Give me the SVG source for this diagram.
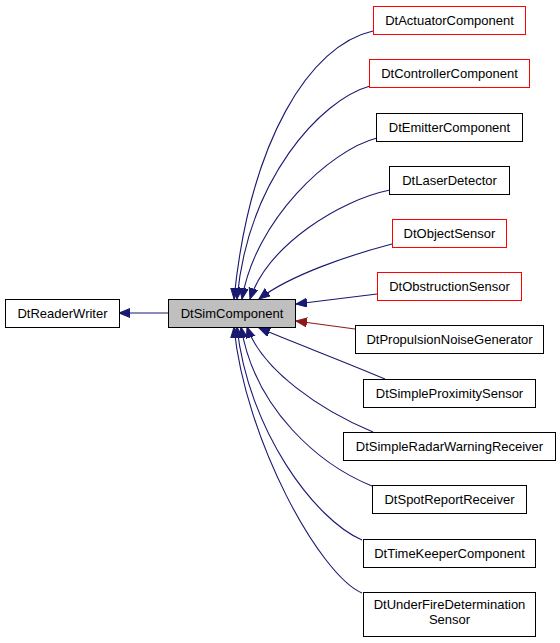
<svg xmlns="http://www.w3.org/2000/svg" width="560" height="643" viewBox="0 0 560 643">
<style>
.n rect{fill:#fff;stroke:#000;stroke-width:1}
.n.r rect{stroke:#ff0000}
.n.g rect{fill:#bfbfbf}
.n text{font-family:"Liberation Sans",Arial,sans-serif;font-size:13px;text-anchor:middle;fill:#000}
.e path{fill:none;stroke:#191970;stroke-width:1.1;marker-end:url(#ab)}
.e path.p{stroke:#8b1a1a;marker-end:url(#ar)}
</style>
<defs>
<marker id="ab" markerUnits="userSpaceOnUse" markerWidth="12" markerHeight="10" refX="11" refY="4.5" orient="auto" viewBox="0 0 12 10"><path d="M0,0 L11,4.5 L0,9 z" fill="#191970" stroke="#191970"/></marker>
<marker id="ar" markerUnits="userSpaceOnUse" markerWidth="12" markerHeight="10" refX="11" refY="4.5" orient="auto" viewBox="0 0 12 10"><path d="M0,0 L11,4.5 L0,9 z" fill="#8b1a1a" stroke="#8b1a1a"/></marker>
</defs>
<rect width="560" height="643" fill="#fff"/>
<g id="edges" class="e">
<path d="M168,313 L119,313"/>
<path d="M373,31 C310,45 250,140 234,299"/>
<path d="M370,86 C320,100 248,180 237,299"/>
<path d="M377,138 C330,150 255,220 242,299"/>
<path d="M390,190 C340,200 268,245 250,299"/>
<path d="M392,244 C350,255 290,275 259,299"/>
<path d="M377,294 L296,304"/>
<path class="p" d="M355,329 L296,321"/>
<path d="M385,379 C345,362 300,345 259,328"/>
<path d="M373,432 C320,410 262,370 247,327"/>
<path d="M372,486 C320,465 255,410 241,327"/>
<path d="M362,540 C315,520 248,430 237,327"/>
<path d="M362,593 C320,575 245,440 234,327"/>
</g>
<g id="DtReaderWriter" class="n"><rect x="5.5" y="299.5" width="114" height="28"/><text x="62.5" y="318">DtReaderWriter</text></g>
<g id="DtSimComponent" class="n g"><rect x="168.5" y="299.5" width="127" height="28"/><text x="232" y="318">DtSimComponent</text></g>
<g id="DtActuatorComponent" class="n r"><rect x="373.5" y="6.5" width="152" height="28"/><text x="449.5" y="25">DtActuatorComponent</text></g>
<g id="DtControllerComponent" class="n r"><rect x="369.5" y="59.5" width="160" height="28"/><text x="449.5" y="78">DtControllerComponent</text></g>
<g id="DtEmitterComponent" class="n"><rect x="376.5" y="113.5" width="146" height="28"/><text x="449.5" y="132">DtEmitterComponent</text></g>
<g id="DtLaserDetector" class="n"><rect x="389.5" y="166.5" width="120" height="28"/><text x="449.5" y="185">DtLaserDetector</text></g>
<g id="DtObjectSensor" class="n r"><rect x="392.5" y="219.5" width="114" height="28"/><text x="449.5" y="238">DtObjectSensor</text></g>
<g id="DtObstructionSensor" class="n r"><rect x="377.5" y="272.5" width="144" height="28"/><text x="449.5" y="291">DtObstructionSensor</text></g>
<g id="DtPropulsionNoiseGenerator" class="n"><rect x="355.5" y="325.5" width="188" height="28"/><text x="449.5" y="344">DtPropulsionNoiseGenerator</text></g>
<g id="DtSimpleProximitySensor" class="n"><rect x="363.5" y="379.5" width="172" height="28"/><text x="449.5" y="398">DtSimpleProximitySensor</text></g>
<g id="DtSimpleRadarWarningReceiver" class="n"><rect x="343.5" y="432.5" width="212" height="28"/><text x="449.5" y="451">DtSimpleRadarWarningReceiver</text></g>
<g id="DtSpotReportReceiver" class="n"><rect x="372.5" y="485.5" width="154" height="28"/><text x="449.5" y="504">DtSpotReportReceiver</text></g>
<g id="DtTimeKeeperComponent" class="n"><rect x="363.5" y="539.5" width="172" height="28"/><text x="449.5" y="558">DtTimeKeeperComponent</text></g>
<g id="DtUnderFireDeterminationSensor" class="n"><rect x="363.5" y="592.5" width="172" height="44"/><text x="449.5" y="609">DtUnderFireDetermination</text><text x="449.5" y="624">Sensor</text></g>
</svg>
